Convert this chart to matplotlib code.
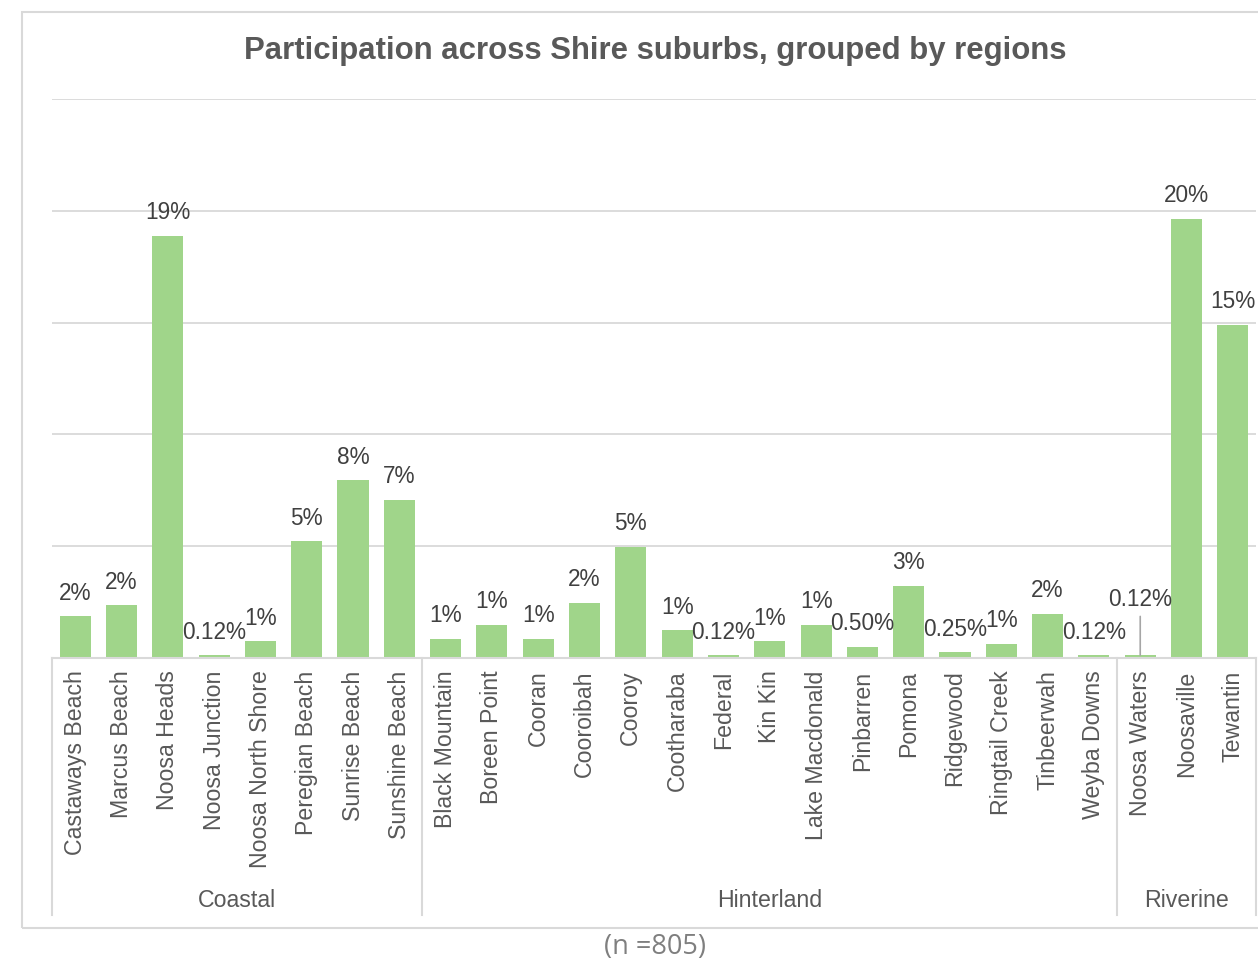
import matplotlib
matplotlib.use("Agg")
import matplotlib.pyplot as plt
from matplotlib.patches import Rectangle
from matplotlib.transforms import blended_transform_factory

# Share of respondents (%) per suburb, n = 805
coastal = ["Castaways Beach", "Marcus Beach", "Noosa Heads", "Noosa Junction",
           "Noosa North Shore", "Peregian Beach", "Sunrise Beach", "Sunshine Beach"]
coastal_pct = [1.86, 2.36, 18.88, 0.12, 0.75, 5.22, 7.95, 7.08]

hinterland = ["Black Mountain", "Boreen Point", "Cooran", "Cooroibah", "Cooroy",
              "Cootharaba", "Federal", "Kin Kin", "Lake Macdonald", "Pinbarren",
              "Pomona", "Ridgewood", "Ringtail Creek", "Tinbeerwah", "Weyba Downs"]
hinterland_pct = [0.87, 1.49, 0.87, 2.48, 4.97, 1.24, 0.12, 0.75, 1.49, 0.50,
                  3.23, 0.25, 0.62, 1.99, 0.12]

riverine = ["Noosa Waters", "Noosaville", "Tewantin"]
riverine_pct = [0.12, 19.63, 14.91]

regions = ["Coastal", "Hinterland", "Riverine"]
title = "Participation across Shire suburbs, grouped by regions"
sample_note = "(n =805)"

suburbs = coastal + hinterland + riverine
values = coastal_pct + hinterland_pct + riverine_pct
group_sizes = [len(coastal), len(hinterland), len(riverine)]

BAR = "#A0D58A"
GRID = "#D9D9D9"
TEXT = "#595959"
LABEL = "#404040"

plt.rcParams["font.family"] = ["Liberation Sans", "DejaVu Sans"]

W, H = 1258, 963
fig = plt.figure(figsize=(W / 100, H / 100), dpi=100)

# chart frame
fig.patches.append(Rectangle((22 / W, 1 - 928 / H), 1.2, (928 - 12) / H,
                             transform=fig.transFigure, fill=False,
                             edgecolor=GRID, lw=1.5))

ax = fig.add_axes([52 / W, 1 - 658 / H, 1204 / W, 559 / H])
x = list(range(len(suburbs)))
ax.bar(x, values, width=0.67, color=BAR, zorder=2)

ax.set_xlim(-0.5, len(suburbs) - 0.5)
ax.set_ylim(0, 25)
ax.set_yticks([5, 10, 15, 20, 25])
ax.yaxis.grid(True, color=GRID, lw=1.3)
ax.set_axisbelow(True)
ax.tick_params(axis="y", length=0, labelleft=False)
for s in ["top", "right", "left"]:
    ax.spines[s].set_visible(False)
ax.spines["bottom"].set_color(GRID)
ax.spines["bottom"].set_linewidth(1.5)

ax.set_xticks(x)
ax.set_xticklabels(suburbs, rotation=90, fontsize=16.7, color=TEXT)
ax.tick_params(axis="x", length=0, pad=9)


def fmt(v):
    return f"{v:.2f}%" if v < 0.6 else f"{v:.0f}%"


for xi, v, name in zip(x, values, suburbs):
    if name == "Noosa Waters":
        # label lifted clear of its neighbours, with a leader line
        ax.annotate("", xy=(xi, v), xytext=(0, 28), textcoords="offset points",
                    arrowprops=dict(arrowstyle="-", color="#A6A6A6", lw=1.2,
                                    shrinkA=0, shrinkB=0))
        ax.annotate(fmt(v), xy=(xi, v), xytext=(0, 35.5),
                    textcoords="offset points", ha="center", va="baseline",
                    fontsize=16.3, color=LABEL)
    else:
        ax.annotate(fmt(v), xy=(xi, v), xytext=(0, 12),
                    textcoords="offset points", ha="center", va="baseline",
                    fontsize=16.3, color=LABEL)

# region brackets below the suburb names
trans = blended_transform_factory(ax.transData, ax.transAxes)
edges = [-0.5]
for n in group_sizes:
    edges.append(edges[-1] + n)
for e in edges:
    ax.plot([e, e], [0, -0.46], transform=trans, color=GRID, lw=1.5,
            clip_on=False)
for name, a, b in zip(regions, edges[:-1], edges[1:]):
    ax.text((a + b) / 2, -0.433, name, transform=trans, ha="center",
            va="center", fontsize=16.7, color=TEXT)

fig.text(655 / W, 1 - 51 / H, title, ha="center", va="center",
         fontsize=22.4, fontweight="bold", color=TEXT)
fig.text(655 / W, 1 - 947 / H, sample_note, ha="center", va="center",
         fontsize=19.5, color="#7F7F7F", family=["Open Sans", "DejaVu Sans"])

fig.savefig("out.png", dpi=100)
